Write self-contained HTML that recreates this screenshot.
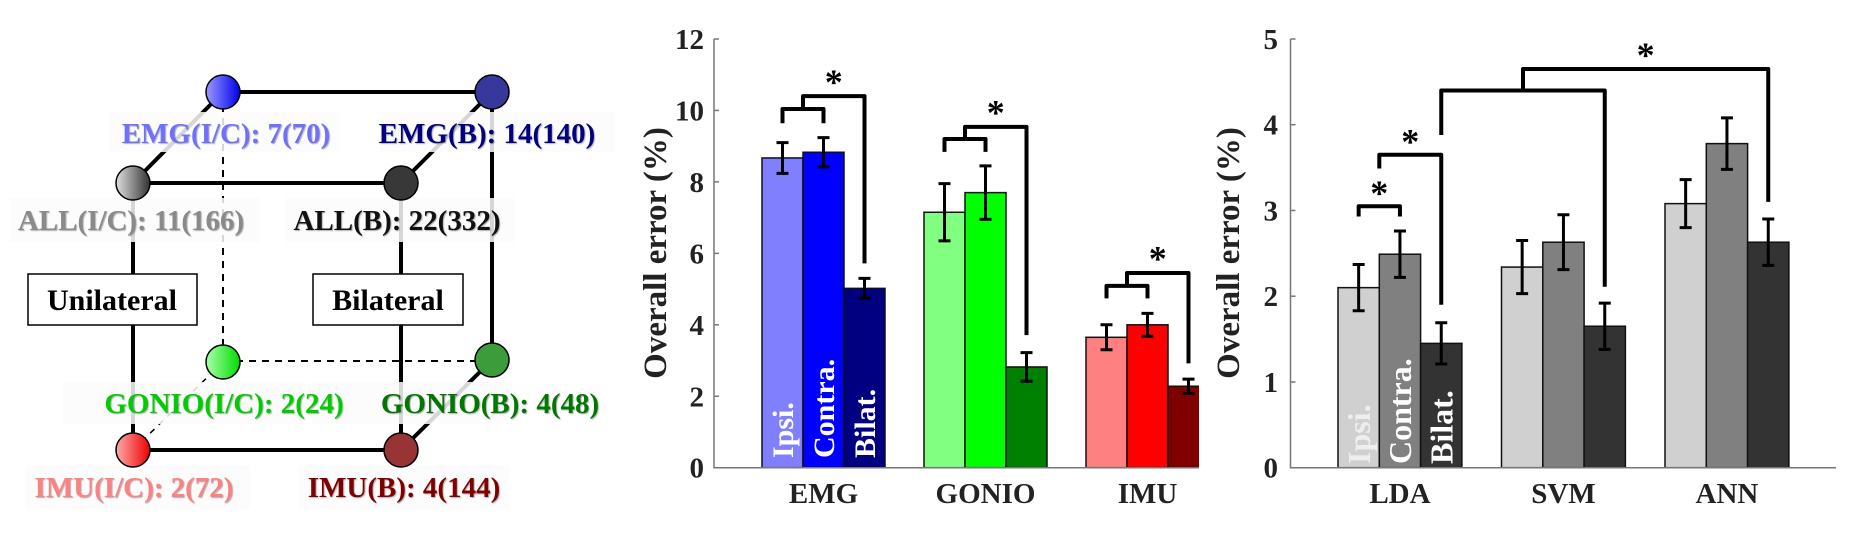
<!DOCTYPE html>
<html><head><meta charset="utf-8">
<style>
html,body{margin:0;padding:0;background:#fff;}
svg{display:block;font-family:"Liberation Serif",serif;font-weight:bold;}
</style></head>
<body>
<svg id="fig" width="1859" height="539" viewBox="0 0 1859 539" xmlns="http://www.w3.org/2000/svg">
<defs>
<linearGradient id="gEmg" x1="0" y1="0" x2="1" y2="0"><stop offset="0" stop-color="#9a9aff"/><stop offset="1" stop-color="#0000ee"/></linearGradient>
<linearGradient id="gAll" x1="0" y1="0" x2="1" y2="0"><stop offset="0" stop-color="#e0e0e0"/><stop offset="1" stop-color="#333"/></linearGradient>
<linearGradient id="gGon" x1="0" y1="0" x2="1" y2="0"><stop offset="0" stop-color="#aaffaa"/><stop offset="1" stop-color="#00dd00"/></linearGradient>
<linearGradient id="gImu" x1="0" y1="0" x2="1" y2="0"><stop offset="0" stop-color="#ffaaaa"/><stop offset="1" stop-color="#ee0000"/></linearGradient>
</defs>
<g id="cube">
  <line x1="223" y1="92" x2="492" y2="92" stroke="#000" stroke-width="4"/>
  <line x1="133" y1="183" x2="401" y2="183" stroke="#000" stroke-width="4"/>
  <line x1="133" y1="450" x2="401" y2="450" stroke="#000" stroke-width="4"/>
  <line x1="133" y1="183" x2="133" y2="450" stroke="#000" stroke-width="4"/>
  <line x1="401" y1="183" x2="401" y2="450" stroke="#000" stroke-width="4"/>
  <line x1="492" y1="92" x2="492" y2="360" stroke="#000" stroke-width="4"/>
  <line x1="223" y1="92" x2="223" y2="362" stroke="#000" stroke-width="2" stroke-dasharray="7,6"/>
  <line x1="223" y1="361" x2="492" y2="361" stroke="#000" stroke-width="2" stroke-dasharray="7,6"/>
  <line x1="133" y1="183" x2="223" y2="92" stroke="#000" stroke-width="4"/>
  <line x1="401" y1="183" x2="492" y2="92" stroke="#000" stroke-width="4"/>
  <line x1="401" y1="450" x2="492" y2="360" stroke="#000" stroke-width="4"/>
  <line x1="133" y1="450" x2="223" y2="362" stroke="#000" stroke-width="1.5" stroke-dasharray="6,6"/>
  <g fill="#fbfbfb" fill-opacity="0.85">
    <rect x="110" y="112" width="230" height="40"/>
    <rect x="380" y="112" width="235" height="40"/>
    <rect x="10" y="198" width="250" height="44"/>
    <rect x="285" y="198" width="230" height="44"/>
    <rect x="63" y="382" width="240" height="42"/>
    <rect x="312" y="382" width="200" height="42"/>
    <rect x="25" y="465" width="225" height="44"/>
    <rect x="298" y="465" width="212" height="44"/>
  </g>
  <circle cx="223" cy="92" r="17" fill="url(#gEmg)" stroke="#000" stroke-width="1.5"/>
  <circle cx="492" cy="92" r="17" fill="#38389c" stroke="#000" stroke-width="1.5"/>
  <circle cx="133" cy="183" r="17" fill="url(#gAll)" stroke="#000" stroke-width="1.5"/>
  <circle cx="401" cy="183" r="17" fill="#383838" stroke="#000" stroke-width="1.5"/>
  <circle cx="223" cy="362" r="17" fill="url(#gGon)" stroke="#000" stroke-width="1.5"/>
  <circle cx="492" cy="360" r="17" fill="#3c9c3c" stroke="#000" stroke-width="1.5"/>
  <circle cx="133" cy="450" r="17" fill="url(#gImu)" stroke="#000" stroke-width="1.5"/>
  <circle cx="401" cy="450" r="17" fill="#993434" stroke="#000" stroke-width="1.5"/>
  <g font-size="29" text-anchor="middle" style="text-shadow:1px 1px 1px rgba(0,0,0,0.3)">
    <text x="226" y="143" fill="#7070ff">EMG(I/C): 7(70)</text>
    <text x="487" y="143" fill="#000080">EMG(B): 14(140)</text>
    <text x="131" y="230" fill="#8a8a8a">ALL(I/C): 11(166)</text>
    <text x="397" y="230" fill="#111">ALL(B): 22(332)</text>
    <text x="224" y="413" fill="#00cc00">GONIO(I/C): 2(24)</text>
    <text x="490" y="413" fill="#007800">GONIO(B): 4(48)</text>
    <text x="134" y="497" fill="#ff8080">IMU(I/C): 2(72)</text>
    <text x="404" y="497" fill="#800000">IMU(B): 4(144)</text>
  </g>
  <rect x="28" y="274" width="169" height="51" fill="#fff" stroke="#000" stroke-width="1.5"/>
  <text x="112" y="310" font-size="30" text-anchor="middle">Unilateral</text>
  <rect x="313" y="274" width="150" height="51" fill="#fff" stroke="#000" stroke-width="1.5"/>
  <text x="388" y="310" font-size="30" text-anchor="middle">Bilateral</text>
</g>
<g id="mid"></g>
<g id="right"></g>
</svg>
<script>
// ---- middle chart data ----
const sensorCats = ["EMG", "GONIO", "IMU"];
const sensorIpsi = [8.67, 7.15, 3.65];
const sensorContra = [8.83, 7.70, 4.00];
const sensorBilat = [5.02, 2.82, 2.28];
const sensorIpsiErr = [0.43, 0.80, 0.35];
const sensorContraErr = [0.41, 0.75, 0.32];
const sensorBilatErr = [0.28, 0.40, 0.20];
const sensorTicks = [0, 2, 4, 6, 8, 10, 12];
const sensorSmallTop = [10.04, 9.20, 5.09];
const sensorSmallLeg = [9.64, 8.84, 4.74];
const sensorBigTop = [10.40, 9.54, 5.45];
const sensorBigLeg = [5.72, 3.71, 2.92];
const sensorStar = [10.94, 10.08, 6.00];
// ---- right chart data ----
const clfCats = ["LDA", "SVM", "ANN"];
const clfIpsi = [2.10, 2.34, 3.08];
const clfContra = [2.49, 2.63, 3.78];
const clfBilat = [1.45, 1.65, 2.63];
const clfIpsiErr = [0.27, 0.31, 0.28];
const clfContraErr = [0.27, 0.32, 0.30];
const clfBilatErr = [0.24, 0.27, 0.27];
const clfTicks = [0, 1, 2, 3, 4, 5];
const clfBracketTops = [3.05, 3.65, 4.40, 4.65];
const clfBracketLegs = [2.93, 3.49, 3.88, 4.40];
const clfBracketRightLegs = [2.93, 1.90, 2.11, 3.10];
const clfStars = [3.26, 3.86, 4.87];

const NS = "http://www.w3.org/2000/svg";
function mk(parent, tag, attrs, text) {
  const e = document.createElementNS(NS, tag);
  for (const k in attrs) e.setAttribute(k, attrs[k]);
  if (text !== undefined) e.textContent = text;
  parent.appendChild(e);
  return e;
}

function drawChart(cfg) {
  const g = document.getElementById(cfg.id);
  const y = v => cfg.y0 - (v / cfg.max) * (cfg.y0 - cfg.yTop);
  const bx = (gi, j) => cfg.x0 + gi * cfg.gStep + j * cfg.bw;
  const bc = (gi, j) => bx(gi, j) + cfg.bw / 2;
  const clip = mk(g, "clipPath", {id: cfg.id + "-clip"});
  mk(clip, "rect", {x: cfg.axX, y: 0, width: cfg.axEnd - cfg.axX, height: 539});
  const series = [cfg.ipsi, cfg.contra, cfg.bilat];
  const errs = [cfg.ipsiErr, cfg.contraErr, cfg.bilatErr];
  const names = ["ipsi", "contra", "bilat"];
  cfg.cats.forEach((c, gi) => {
    for (let j = 0; j < 3; j++) {
      const v = series[j][gi];
      const r = mk(g, "rect", {x: bx(gi, j), y: y(v), width: cfg.bw, height: y(0) - y(v),
        fill: cfg.colors[gi][j], stroke: "#111", "stroke-width": 1.5, "clip-path": "url(#" + cfg.id + "-clip)"});
      
      
    }
  });
  const lbl = ["Ipsi.", "Contra.", "Bilat."];
  for (let j = 0; j < 3; j++) {
    const cx = bc(0, j) + cfg.lblSize * 0.35;
    const t = mk(g, "text", {x: cx, y: cfg.lblBottom, "font-size": cfg.lblSize, fill: cfg.lblColors[j],
      transform: "rotate(-90 " + cx + " " + cfg.lblBottom + ")"}, lbl[j]);
    
    
  }
  cfg.cats.forEach((c, gi) => {
    for (let j = 0; j < 3; j++) {
      const v = series[j][gi], e = errs[j][gi], x = bc(gi, j);
      const eg = mk(g, "path", {d: `M${x},${y(v - e)}V${y(v + e)}M${x - 6},${y(v - e)}H${x + 6}M${x - 6},${y(v + e)}H${x + 6}`,
        stroke: "#000", "stroke-width": 3, fill: "none"});
      
      
    }
  });
  const ax = mk(g, "path", {d: `M${cfg.axX},${cfg.yTop}V${y(0)}H${cfg.axEnd}`, stroke: "#777", "stroke-width": 1.5, fill: "none"});
  
  
  cfg.ticks.forEach(t => {
    const tk = mk(g, "line", {x1: cfg.axX, x2: cfg.axX + 5, y1: y(t), y2: y(t), stroke: "#777", "stroke-width": 1.5});
    
    
    const tl = mk(g, "text", {x: cfg.tickRight, y: y(t) + 10, "font-size": 29, "text-anchor": "end", fill: "#222"}, String(t));
    
    
  });
  cfg.cats.forEach((c, gi) => {
    const xl = mk(g, "text", {x: bc(gi, 1), y: 503, "font-size": 29, "text-anchor": "middle", fill: "#222"}, c);
    
    
  });
  const yt = mk(g, "text", {x: cfg.titleX, y: 253, "font-size": 33, "text-anchor": "middle", fill: "#222",
    transform: `rotate(-90 ${cfg.titleX} 253)`, "dominant-baseline": "central"}, "Overall error (%)");
  
  
  return {y, bc};
}

function bracket(g, xl, xr, top, legL, legR, y, name) {
  const p = mk(g, "path", {d: `M${xl},${y(legL)}V${y(top)}H${xr}V${y(legR)}`, stroke: "#000", "stroke-width": 4,
    fill: "none", "stroke-linejoin": "round"});
  
  
}
function star(g, x, v, y) {
  const s = mk(g, "text", {x: x, y: y(v) + 17, "font-size": 36, "text-anchor": "middle", fill: "#000"}, "*");
  
  
}

const m = drawChart({id: "mid", cats: sensorCats, ipsi: sensorIpsi, contra: sensorContra, bilat: sensorBilat,
  ipsiErr: sensorIpsiErr, contraErr: sensorContraErr, bilatErr: sensorBilatErr, ticks: sensorTicks,
  max: 12, y0: 467.7, yTop: 39, x0: 762, gStep: 162, bw: 41, axX: 714, axEnd: 1199, tickRight: 704, titleX: 656,
  colors: [["#8080ff", "#0000ff", "#000080"], ["#80ff80", "#00ff00", "#008000"], ["#ff8080", "#ff0000", "#800000"]],
  lblColors: ["#fff", "#fff", "#fff"], lblSize: 30, lblBottom: 458});
const gm = document.getElementById("mid");
sensorCats.forEach((c, gi) => {
  const a = m.bc(gi, 0), b = m.bc(gi, 1), mid = (a + b) / 2, r = m.bc(gi, 2);
  bracket(gm, a, b, sensorSmallTop[gi], sensorSmallLeg[gi], sensorSmallLeg[gi], m.y, 'bracket-small-' + c.toLowerCase());
  bracket(gm, mid, r, sensorBigTop[gi], sensorSmallTop[gi], sensorBigLeg[gi], m.y, 'bracket-big-' + c.toLowerCase());
  star(gm, (mid + r) / 2, sensorStar[gi], m.y);
});

const rc = drawChart({id: "right", cats: clfCats, ipsi: clfIpsi, contra: clfContra, bilat: clfBilat,
  ipsiErr: clfIpsiErr, contraErr: clfContraErr, bilatErr: clfBilatErr, ticks: clfTicks,
  max: 5, y0: 467.7, yTop: 39, x0: 1338, gStep: 163.5, bw: 41.3, axX: 1290.5, axEnd: 1836, tickRight: 1278, titleX: 1229,
  colors: [["#d0d0d0", "#808080", "#333333"], ["#d0d0d0", "#808080", "#333333"], ["#d0d0d0", "#808080", "#333333"]],
  lblColors: ["#eeeeee", "#fff", "#fff"], lblSize: 32, lblBottom: 464});
const gr = document.getElementById("right");
const p0 = rc.bc(0, 0), p1 = rc.bc(0, 1), m01 = (p0 + p1) / 2, ldaB = rc.bc(0, 2), svmB = rc.bc(1, 2), annB = rc.bc(2, 2);
const m3 = (ldaB + svmB) / 2;
bracket(gr, p0, p1, clfBracketTops[0], clfBracketLegs[0], clfBracketRightLegs[0], rc.y, 'bracket-lda-ipsi-contra');
bracket(gr, m01, ldaB, clfBracketTops[1], clfBracketLegs[1], clfBracketRightLegs[1], rc.y, 'bracket-lda-bilat');
bracket(gr, ldaB, svmB, clfBracketTops[2], clfBracketLegs[2], clfBracketRightLegs[2], rc.y, 'bracket-lda-svm');
bracket(gr, m3, annB, clfBracketTops[3], clfBracketLegs[3], clfBracketRightLegs[3], rc.y, 'bracket-ann');
star(gr, m01, clfStars[0], rc.y);
star(gr, (m01 + ldaB) / 2, clfStars[1], rc.y);
star(gr, (m3 + annB) / 2, clfStars[2], rc.y);
</script>
</body></html>
